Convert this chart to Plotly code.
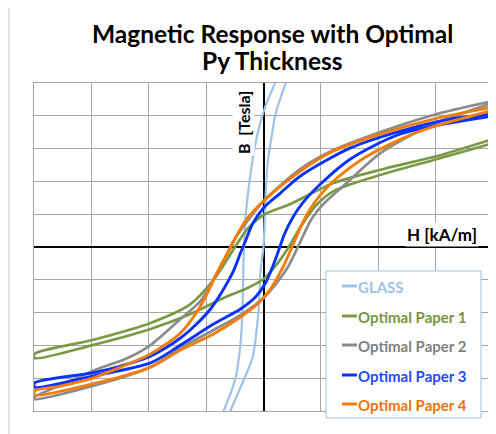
import plotly.graph_objects as go

# ---------------- data (H in kA/m, B in Tesla) ----------------
series_names = ["GLASS", "Optimal Paper 1", "Optimal Paper 2", "Optimal Paper 3", "Optimal Paper 4"]

glass_desc_h = [0.226, 0.192, 0.035, -0.105, -0.226, -0.314, -0.348, -0.366, -0.401, -0.488, -0.697, -0.767]
glass_desc_b = [1.043, 0.994, 0.860, 0.689, 0.445, 0.177, -0.085, -0.390, -0.591, -0.799, -1.000, -1.049]
glass_asc_h = [-0.627, -0.575, -0.279, -0.192, -0.087, -0.052, 0.000, 0.035, 0.070, 0.157, 0.209, 0.383, 0.436]
glass_asc_b = [-1.049, -1.000, -0.756, -0.677, -0.390, -0.146, 0.000, 0.299, 0.506, 0.707, 0.811, 0.994, 1.043]

p1_desc_h = [4.007, 3.031, 2.091, 1.220, 0.470, 0.000, -0.279, -0.540, -0.871, -1.272, -1.969, -2.979, -3.990]
p1_desc_b = [0.659, 0.555, 0.476, 0.390, 0.262, 0.195, 0.110, -0.024, -0.201, -0.348, -0.463, -0.567, -0.652]
p1_asc_h = [-3.990, -2.979, -1.969, -1.272, -0.697, -0.279, 0.000, 0.209, 0.418, 0.645, 0.906, 1.220, 2.091, 3.031, 4.007]
p1_asc_b = [-0.677, -0.598, -0.500, -0.409, -0.311, -0.250, -0.195, -0.116, -0.012, 0.122, 0.250, 0.341, 0.445, 0.537, 0.634]

p2_desc_h = [4.007, 2.962, 2.038, 1.220, 0.645, 0.000, -0.279, -0.523, -0.697, -0.871, -1.098, -1.446, -1.969, -2.369, -2.979, -3.484, -3.990]
p2_desc_b = [0.890, 0.805, 0.701, 0.591, 0.476, 0.280, 0.159, 0.037, -0.085, -0.195, -0.329, -0.439, -0.598, -0.677, -0.756, -0.835, -0.915]
p2_asc_h = [-3.990, -2.979, -1.969, -1.446, -0.871, -0.401, 0.000, 0.244, 0.436, 0.575, 0.697, 0.837, 1.028, 1.429, 2.039, 2.963, 4.007]
p2_asc_b = [-0.927, -0.848, -0.732, -0.616, -0.506, -0.415, -0.311, -0.213, -0.116, -0.018, 0.073, 0.171, 0.256, 0.384, 0.573, 0.750, 0.878]

p3_desc_h = [4.007, 3.258, 2.387, 1.516, 0.645, 0.296, 0.000, -0.192, -0.314, -0.401, -0.523, -0.715, -0.924, -1.185, -1.446, -1.969, -2.491, -2.979, -3.990]
p3_desc_b = [0.811, 0.780, 0.707, 0.604, 0.433, 0.329, 0.238, 0.140, 0.037, -0.037, -0.146, -0.268, -0.378, -0.476, -0.555, -0.665, -0.726, -0.768, -0.829]
p3_asc_h = [-3.990, -2.979, -1.969, -1.446, -0.871, -0.401, -0.139, 0.035, 0.157, 0.261, 0.366, 0.505, 0.680, 0.993, 1.516, 2.387, 4.007]
p3_asc_b = [-0.854, -0.787, -0.707, -0.598, -0.470, -0.378, -0.305, -0.220, -0.122, -0.024, 0.079, 0.177, 0.268, 0.384, 0.537, 0.689, 0.799]

p4_desc_h = [4.007, 2.962, 2.038, 1.220, 0.645, 0.000, -0.314, -0.488, -0.575, -0.749, -0.976, -1.150, -1.446, -1.969, -2.491, -2.979, -3.537, -3.990]
p4_desc_b = [0.854, 0.780, 0.689, 0.585, 0.463, 0.280, 0.159, 0.055, -0.006, -0.116, -0.280, -0.390, -0.524, -0.652, -0.732, -0.799, -0.848, -0.878]
p4_asc_h = [-3.990, -2.979, -1.969, -1.446, -0.871, -0.401, -0.087, 0.122, 0.296, 0.436, 0.558, 0.697, 0.871, 1.115, 1.429, 1.813, 2.684, 4.007]
p4_asc_b = [-0.902, -0.835, -0.732, -0.628, -0.530, -0.427, -0.341, -0.256, -0.152, -0.049, 0.049, 0.159, 0.262, 0.366, 0.463, 0.555, 0.701, 0.835]

# ---------------- styling ----------------
line_colors = ["#9DC3E6", "#7A9A45", "#8C8C8C", "#0A32FF", "#F07D0C"]
text_colors = ["#9DC3E6", "#77963F", "#7F7F7F", "#1F4BFF", "#EB740B"]
line_widths = [2.2, 2.7, 2.7, 2.9, 2.9]

loops = [
    (glass_desc_h + glass_asc_h, glass_desc_b + glass_asc_b),
    (p1_desc_h + p1_asc_h, p1_desc_b + p1_asc_b),
    (p2_desc_h + p2_asc_h, p2_desc_b + p2_asc_b),
    (p3_desc_h + p3_asc_h, p3_desc_b + p3_asc_b),
    (p4_desc_h + p4_asc_h, p4_desc_b + p4_asc_b),
]

fig = go.Figure()
for name, (hx, by), col, w in zip(series_names, loops, line_colors, line_widths):
    fig.add_trace(go.Scatter(
        x=hx, y=by, mode="lines", name=name,
        line=dict(color=col, width=w, shape="spline", smoothing=0.8),
        showlegend=False, hoverinfo="skip",
    ))

FONT = "Lato, 'Open Sans', sans-serif"

# page has an 8px body margin; target geometry is given in window pixels
OFF = 8
W, H = 496, 434
L, R, T, B = 34, 493, 83, 411   # plot area in window pixels

def px(x):
    return (x - L) / (R - L)

def py(y):
    return (B - y) / (B - T)

shapes = [
    # outer chart border
    dict(type="rect", xref="paper", yref="paper", x0=px(9), x1=px(495), y0=py(445), y1=py(6),
         line=dict(color="#C8C8C8", width=1), fillcolor="rgba(0,0,0,0)", layer="below"),
    # legend box
    dict(type="rect", xref="paper", yref="paper", x0=px(326), x1=px(481), y0=py(418), y1=py(271),
         line=dict(color="#9DC3E6", width=1), fillcolor="white", layer="above"),
]
annotations = [
    dict(text="<b>Magnetic Response with Optimal</b>", xref="paper", yref="paper",
         x=px(272), y=py(34), xanchor="center", yanchor="middle", showarrow=False,
         font=dict(family=FONT, size=24.5, color="black")),
    dict(text="<b>Py Thickness</b>", xref="paper", yref="paper",
         x=px(272), y=py(61), xanchor="center", yanchor="middle", showarrow=False,
         font=dict(family=FONT, size=24.5, color="black")),
    dict(text="<b>B  [Tesla]</b>", xref="paper", yref="paper", x=px(243), y=py(123),
         xanchor="center", yanchor="middle", textangle=-90, showarrow=False,
         bgcolor="white", borderpad=1, font=dict(family=FONT, size=16, color="black")),
    dict(text="<b>H [kA/m]</b>", xref="paper", yref="paper", x=px(442), y=py(234),
         xanchor="center", yanchor="middle", showarrow=False,
         bgcolor="white", borderpad=1, font=dict(family=FONT, size=17, color="black")),
]

entry_y = [287, 317, 346, 376, 405]
for name, col, tcol, ey in zip(series_names, line_colors, text_colors, entry_y):
    shapes.append(dict(type="line", xref="paper", yref="paper", x0=px(342), x1=px(357),
                       y0=py(ey - 1), y1=py(ey - 1), line=dict(color=col, width=3), layer="above"))
    annotations.append(dict(text=f"<b>{name}</b>", xref="paper", yref="paper", x=px(356), y=py(ey),
                            xanchor="left", yanchor="middle", showarrow=False,
                            font=dict(family=FONT, size=15, color=tcol)))

fig.update_layout(
    width=W - OFF, height=H - OFF,
    margin=dict(l=L - OFF, r=W - R, t=T - OFF, b=H - B),
    paper_bgcolor="white", plot_bgcolor="white",
    showlegend=False,
    xaxis=dict(range=[-4, 4], dtick=1, showticklabels=False, ticks="",
               showgrid=True, gridcolor="#A6A6A6", gridwidth=1,
               zeroline=True, zerolinecolor="black", zerolinewidth=1.5,
               showline=True, mirror=True, linecolor="#A6A6A6", linewidth=1),
    yaxis=dict(range=[-1, 1], dtick=0.2, showticklabels=False, ticks="",
               showgrid=True, gridcolor="#A6A6A6", gridwidth=1,
               zeroline=True, zerolinecolor="black", zerolinewidth=1.5,
               showline=True, mirror=True, linecolor="#A6A6A6", linewidth=1),
    shapes=shapes, annotations=annotations,
)

fig.write_html("out.html")
